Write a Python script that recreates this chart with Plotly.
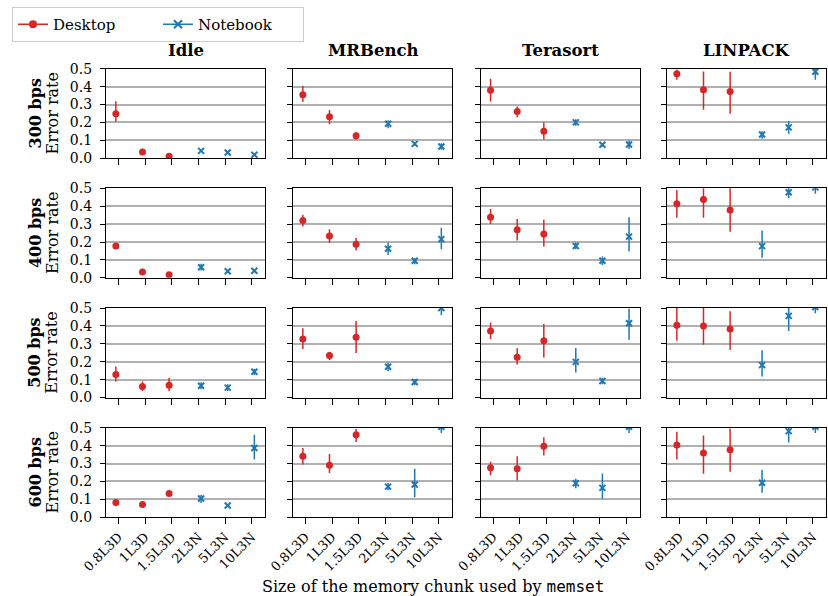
import plotly.graph_objects as go

W, H = 828, 596
RED = "#d62728"
BLUE = "#1f77b4"
FONT = "DejaVu Serif"

workloads = ["Idle", "MRBench", "Terasort", "LINPACK"]
rates = ["300 bps", "400 bps", "500 bps", "600 bps"]
categories = ["0.8L3D", "1L3D", "1.5L3D", "2L3N", "5L3N", "10L3N"]
y_ticks = [0.0, 0.1, 0.2, 0.3, 0.4, 0.5]

# [rate][workload][chunk]
desktop_mean = [
    [[0.248, 0.034, 0.011], [0.355, 0.231, 0.126], [0.379, 0.261, 0.151], [0.472, 0.382, 0.373]],
    [[0.177, 0.033, 0.017], [0.320, 0.234, 0.188], [0.338, 0.268, 0.245], [0.414, 0.437, 0.379]],
    [[0.129, 0.061, 0.068], [0.327, 0.234, 0.336], [0.371, 0.225, 0.317], [0.404, 0.399, 0.382]],
    [[0.082, 0.071, 0.132], [0.340, 0.290, 0.461], [0.276, 0.270, 0.397], [0.403, 0.358, 0.377]],
]
desktop_lo = [
    [[0.203, 0.029, 0.007], [0.316, 0.190, 0.103], [0.317, 0.229, 0.104], [0.438, 0.270, 0.248]],
    [[0.170, 0.027, 0.011], [0.286, 0.195, 0.152], [0.301, 0.208, 0.175], [0.335, 0.335, 0.257]],
    [[0.089, 0.037, 0.037], [0.271, 0.210, 0.249], [0.325, 0.183, 0.223], [0.317, 0.295, 0.266]],
    [[0.061, 0.064, 0.125], [0.294, 0.247, 0.420], [0.235, 0.207, 0.345], [0.323, 0.243, 0.254]],
]
desktop_hi = [
    [[0.318, 0.040, 0.016], [0.404, 0.269, 0.145], [0.444, 0.289, 0.200], [0.494, 0.485, 0.483]],
    [[0.184, 0.039, 0.023], [0.351, 0.271, 0.223], [0.385, 0.329, 0.325], [0.490, 0.520, 0.520]],
    [[0.173, 0.089, 0.111], [0.387, 0.256, 0.428], [0.419, 0.275, 0.411], [0.510, 0.510, 0.482]],
    [[0.099, 0.078, 0.139], [0.387, 0.353, 0.493], [0.310, 0.341, 0.446], [0.478, 0.457, 0.496]],
]
notebook_mean = [
    [[0.041, 0.032, 0.019], [0.192, 0.080, 0.065], [0.200, 0.075, 0.077], [0.132, 0.172, 0.483]],
    [[0.059, 0.037, 0.039], [0.162, 0.095, 0.216], [0.178, 0.095, 0.230], [0.177, 0.478, 0.505]],
    [[0.066, 0.055, 0.144], [0.172, 0.087, 0.500], [0.199, 0.092, 0.415], [0.181, 0.456, 0.505]],
    [[0.104, 0.065, 0.387], [0.171, 0.183, 0.505], [0.190, 0.164, 0.505], [0.192, 0.481, 0.505]],
]
notebook_lo = [
    [[0.035, 0.026, 0.013], [0.167, 0.070, 0.047], [0.181, 0.066, 0.052], [0.108, 0.136, 0.438]],
    [[0.041, 0.030, 0.032], [0.128, 0.076, 0.160], [0.160, 0.072, 0.147], [0.112, 0.444, 0.470]],
    [[0.046, 0.037, 0.125], [0.146, 0.070, 0.460], [0.140, 0.074, 0.323], [0.118, 0.371, 0.470]],
    [[0.080, 0.058, 0.322], [0.151, 0.112, 0.470], [0.162, 0.103, 0.470], [0.136, 0.418, 0.470]],
]
notebook_hi = [
    [[0.048, 0.038, 0.025], [0.212, 0.090, 0.084], [0.218, 0.084, 0.099], [0.151, 0.207, 0.510]],
    [[0.078, 0.044, 0.046], [0.197, 0.111, 0.279], [0.197, 0.119, 0.338], [0.264, 0.510, 0.550]],
    [[0.085, 0.074, 0.160], [0.196, 0.104, 0.540], [0.277, 0.110, 0.496], [0.264, 0.540, 0.550]],
    [[0.125, 0.072, 0.461], [0.191, 0.270, 0.550], [0.215, 0.244, 0.550], [0.265, 0.520, 0.550]],
]

col_left = [106, 293, 480.7, 667]
col_w = 159
row_top = [68.7, 188.3, 308, 427.7]
row_h = 89.5
OFF = 0.1

fig = go.Figure()

# legend-only entries
fig.add_trace(go.Scatter(x=[None], y=[None], mode="lines+markers", name="Desktop",
                         marker=dict(symbol="circle", size=8, color=RED),
                         line=dict(color=RED, width=1.5)))
fig.add_trace(go.Scatter(x=[None], y=[None], mode="lines+markers", name="Notebook",
                         marker=dict(symbol="x-thin", size=8, color=BLUE, line=dict(color=BLUE, width=2)),
                         line=dict(color=BLUE, width=1.5)))

layout_axes = {}
annotations = []
for r in range(4):
    for c in range(4):
        k = r * 4 + c + 1
        xa = "x" if k == 1 else f"x{k}"
        ya = "y" if k == 1 else f"y{k}"
        dm, dl, dh = desktop_mean[r][c], desktop_lo[r][c], desktop_hi[r][c]
        nm, nl, nh = notebook_mean[r][c], notebook_lo[r][c], notebook_hi[r][c]
        fig.add_trace(go.Scatter(
            x=[i - OFF for i in range(3)], y=dm, mode="markers", showlegend=False,
            marker=dict(symbol="circle", size=7, color=RED),
            error_y=dict(type="data", symmetric=False,
                         array=[h - m for h, m in zip(dh, dm)],
                         arrayminus=[m - l for m, l in zip(dm, dl)],
                         color=RED, thickness=1.5, width=0),
            xaxis=xa, yaxis=ya))
        fig.add_trace(go.Scatter(
            x=[i + 3 + OFF for i in range(3)], y=nm, mode="markers", showlegend=False,
            marker=dict(symbol="x-thin", size=6, color=BLUE, line=dict(color=BLUE, width=2)),
            error_y=dict(type="data", symmetric=False,
                         array=[h - m for h, m in zip(nh, nm)],
                         arrayminus=[m - l for m, l in zip(nm, nl)],
                         color=BLUE, thickness=1.5, width=0),
            xaxis=xa, yaxis=ya))
        x0 = col_left[c] / W
        x1 = (col_left[c] + col_w) / W
        y1 = 1 - row_top[r] / H
        y0 = 1 - (row_top[r] + row_h) / H
        layout_axes["xaxis" if k == 1 else f"xaxis{k}"] = dict(
            domain=[x0, x1], anchor=ya, range=[-0.47, 5.5], automargin=False,
            tickvals=list(range(6)), ticktext=categories, showticklabels=(r == 3),
            tickangle=-45, ticks="outside", ticklen=6, tickwidth=1.2, tickcolor="black",
            showline=True, linecolor="black", linewidth=1.3, mirror=True,
            showgrid=False, zeroline=False,
            tickfont=dict(family=FONT, size=13, color="black"))
        layout_axes["yaxis" if k == 1 else f"yaxis{k}"] = dict(
            domain=[y0, y1], anchor=xa, range=[0, 0.5], automargin=False,
            tickvals=y_ticks, ticktext=[f"{v:.1f}" for v in y_ticks], showticklabels=(c == 0),
            ticks="outside", ticklen=5, tickwidth=1.2, tickcolor="black", ticklabelstandoff=5,
            showline=True, linecolor="black", linewidth=1.3, mirror=True,
            showgrid=True, gridcolor="#b0b0b0", gridwidth=1.5, zeroline=False,
            tickfont=dict(family=FONT, size=14, color="black"))

for c, name in enumerate(workloads):
    annotations.append(dict(text=f"<b>{name}</b>", x=(col_left[c] + col_w / 2) / W, y=1 - 50 / H,
                            xref="paper", yref="paper", showarrow=False,
                            xanchor="center", yanchor="middle",
                            font=dict(family=FONT, size=16.5, color="black")))
for r, name in enumerate(rates):
    yc = 1 - (row_top[r] + row_h / 2) / H
    annotations.append(dict(text=f"<b>{name}</b>", x=35 / W, y=yc, xref="paper", yref="paper",
                            showarrow=False, textangle=-90, xanchor="center", yanchor="middle",
                            font=dict(family=FONT, size=16, color="black")))
    annotations.append(dict(text="Error rate", x=52 / W, y=yc, xref="paper", yref="paper",
                            showarrow=False, textangle=-90, xanchor="center", yanchor="middle",
                            font=dict(family=FONT, size=16, color="black")))
annotations.append(dict(
    text='Size of the memory chunk used by <span style="font-family:DejaVu Sans Mono">memset</span>',
    x=433 / W, y=1 - 586 / H, xref="paper", yref="paper", showarrow=False,
    xanchor="center", yanchor="middle",
    font=dict(family=FONT, size=16, color="black")))

fig.update_layout(
    width=W, height=H, margin=dict(l=0, r=0, t=0, b=0, autoexpand=False),
    paper_bgcolor="white", plot_bgcolor="white",
    font=dict(family=FONT, size=13, color="black"),
    showlegend=True,
    legend=dict(orientation="h", x=12 / W, y=1 - 7 / H, xanchor="left", yanchor="top",
                bgcolor="white", bordercolor="#cccccc", borderwidth=1,
                font=dict(family=FONT, size=15, color="black"),
                entrywidth=100, entrywidthmode="pixels"),
    annotations=annotations,
    **layout_axes)

fig.write_html("out.html", config={"displayModeBar": False})

# remove the browser's default page margin so the figure sits at the window origin
with open("out.html", "r", encoding="utf-8") as f:
    html = f.read()
html = html.replace("<head>", "<head><style>html,body{margin:0;padding:0;}</style>", 1)
with open("out.html", "w", encoding="utf-8") as f:
    f.write(html)
